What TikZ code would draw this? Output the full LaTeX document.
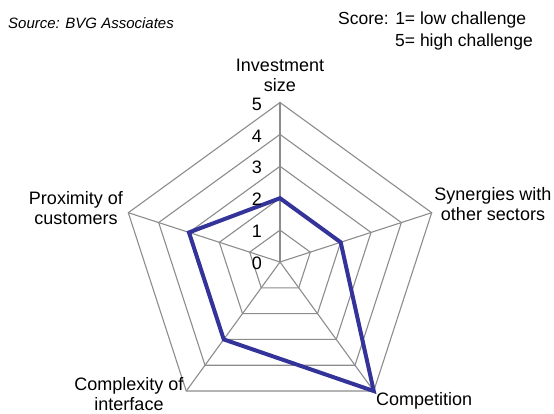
\documentclass[tikz,border=0pt]{standalone}
\usepackage{fontspec}
\setmainfont{Liberation Sans}
\definecolor{gridgray}{HTML}{8C8C8C}
\definecolor{seriesblue}{HTML}{333399}
\begin{document}
\begin{tikzpicture}[x=1pt,y=1pt,
  gridline/.style={draw=gridgray,line width=1.1pt},
  series/.style={draw=seriesblue,line width=4pt,line join=miter},
  axislabel/.style={font=\fontsize{18}{20}\selectfont,inner sep=0pt,align=center},
  ticklabel/.style={font=\fontsize{18}{20}\selectfont,inner sep=0pt,anchor=east}]
\useasboundingbox (0,0) rectangle (554,-414);
\def\u{31.9}
\begin{scope}[shift={(280,-262)}]
  \coordinate (O) at (0,0);
  % grid rings
  \foreach \k in {1,...,5}{
    \draw[gridline] (90:\k*\u) -- (18:\k*\u) -- (-54:\k*\u) -- (-126:\k*\u) -- (162:\k*\u) -- cycle;
  }
  % axis vertices
  \coordinate (vA) at (90:5*\u);
  \coordinate (vB) at (18:5*\u);
  \coordinate (vC) at (-54:5*\u);
  \coordinate (vD) at (-126:5*\u);
  \coordinate (vE) at (162:5*\u);
  \foreach \v in {vA,vB,vC,vD,vE}{\draw[gridline] (O) -- (\v);}
  % data points
  \coordinate (dA) at (90:2*\u);
  \coordinate (dB) at (18:2*\u);
  \coordinate (dC) at (-54:5*\u);
  \coordinate (dD) at (-126:3*\u);
  \coordinate (dE) at (162:3*\u);
  \draw[series] (dA) -- (dB) -- (dC) -- (dD) -- (dE) -- cycle;
  % tick labels
  \foreach \k in {0,...,5}{
    \node[ticklabel] (t\k) at (-18,{\k*\u-1.5}) {\k};
  }
\end{scope}
% axis labels
\node[axislabel,anchor=base] (lA) at (280,-91.7) {Investment\\size};
\node[axislabel,anchor=base] (lB) at (493,-220) {Synergies with\\other sectors};
\node[axislabel,anchor=base west] (lC) at (376,-405) {Competition};
\node[axislabel,anchor=base] (lD) at (129,-410) {Complexity of\\interface};
\node[axislabel,anchor=base] (lE) at (76,-225) {Proximity of\\customers};
% header texts
\node[font=\fontsize{15}{18}\selectfont\itshape,inner sep=0pt,anchor=base west] (src) at (8,-28.3) {Source: BVG Associates};
\node[font=\fontsize{17.5}{22.4}\selectfont,inner sep=0pt,anchor=base west,align=left] (score) at (338,-46.7) {Score: 1= low challenge\\\hspace*{57pt}5= high challenge};
\end{tikzpicture}
\end{document}
